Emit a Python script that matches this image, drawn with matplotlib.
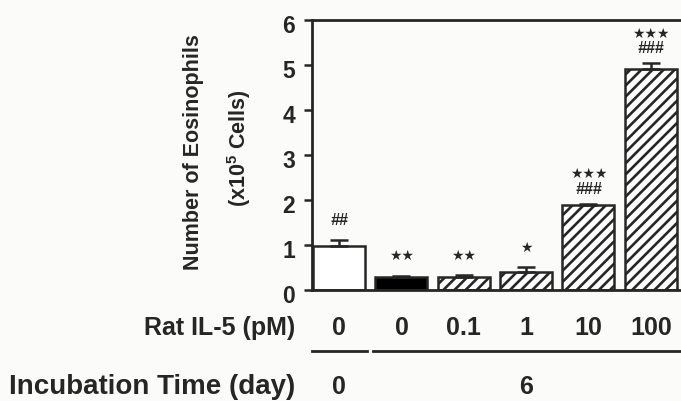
import matplotlib
matplotlib.use("Agg")
import matplotlib.pyplot as plt
import matplotlib.transforms as mtransforms
import numpy as np

# ---- data ----
il5_labels = ["0", "0", "0.1", "1", "10", "100"]
eosinophils = [0.98, 0.29, 0.30, 0.40, 1.88, 4.91]
sem = [0.13, 0.03, 0.03, 0.11, 0.04, 0.13]
sig_star = [0, 2, 2, 1, 3, 3]          # number of stars
sig_hash = [2, 0, 0, 0, 3, 3]          # number of hashes
bar_faces = ["white", "black", "white", "white", "white", "white"]
bar_hatches = [None, None, "///", "///", "///", "///"]
incubation_labels = ["0", "6"]
y_ticks = [0, 1, 2, 3, 4, 5, 6]

INK = "#262626"
plt.rcParams["font.family"] = ["Liberation Sans", "DejaVu Sans"]
plt.rcParams["font.weight"] = "bold"
plt.rcParams["mathtext.fontset"] = "custom"
plt.rcParams["mathtext.rm"] = "Liberation Sans:bold"
plt.rcParams["mathtext.it"] = "Liberation Sans:bold"
plt.rcParams["mathtext.bf"] = "Liberation Sans:bold"
plt.rcParams["hatch.linewidth"] = 1.9
plt.rcParams["hatch.color"] = INK

W, H = 681, 401
fig = plt.figure(figsize=(W / 100, H / 100), dpi=100)
fig.patch.set_facecolor("#fbfbf9")

ax_l, ax_r, ax_t, ax_b = 312, 700, 20, 290
ax = fig.add_axes([ax_l / W, 1 - ax_b / H, (ax_r - ax_l) / W, (ax_b - ax_t) / H])
ax.set_facecolor("none")

x = np.arange(len(eosinophils))
for i in range(len(x)):
    ax.bar(x[i], eosinophils[i], width=0.835, color=bar_faces[i], edgecolor=INK,
           linewidth=1.8, hatch=bar_hatches[i], zorder=2)
ax.errorbar(x, eosinophils, yerr=[np.zeros(len(x)), sem], fmt="none",
            ecolor=INK, elinewidth=1.8, capsize=6.5, capthick=1.8, zorder=3)

ax.set_xlim(-0.435, 5.79)
ax.set_ylim(0, 6)
ax.set_yticks(y_ticks)
ax.set_yticklabels([str(t) for t in y_ticks], fontsize=16.5, fontweight="bold", color=INK)
ax.tick_params(axis="y", direction="out", length=6, width=1.8, pad=6, colors=INK)
ax.set_xticks([])
for lbl in ax.get_yticklabels():
    lbl.set_transform(lbl.get_transform() +
                      mtransforms.ScaledTranslation(0, -4 / 100, fig.dpi_scale_trans))
for s in ["left", "bottom", "top", "right"]:
    ax.spines[s].set_linewidth(2.0)
    ax.spines[s].set_color(INK)

# significance marks
star_kw = dict(ha="center", va="center", fontsize=10, color=INK, family="DejaVu Sans",
               textcoords="offset points")
hash_kw = dict(ha="center", va="center", fontsize=11.5, fontweight="bold", style="italic",
               color=INK, textcoords="offset points")
for i in range(len(x)):
    top = eosinophils[i] + sem[i]
    stars = "\u2605" * sig_star[i]
    hashes = "#" * sig_hash[i]
    if hashes and stars:
        ax.annotate(hashes, (x[i], top), xytext=(0, 10.5), **hash_kw)
        ax.annotate(stars, (x[i], top), xytext=(0, 21), **star_kw)
    elif hashes:
        ax.annotate(hashes, (x[i], top), xytext=(0, 14), **hash_kw)
    elif stars:
        ax.annotate(stars, (x[i], top), xytext=(0, 14), **star_kw)

# bottom labels
blend = mtransforms.blended_transform_factory(ax.transData, ax.transAxes)
ax_h = ax_b - ax_t
def ay(py):
    return (ax_b - py) / ax_h

for i, lab in enumerate(il5_labels):
    ax.text(x[i], ay(328), lab, transform=blend, ha="center", va="center",
            fontsize=18, fontweight="bold", color=INK, clip_on=False)
ax.text(-0.71, ay(328), "Rat IL-5 (pM)", transform=blend, ha="right", va="center",
        fontsize=18, fontweight="bold", color=INK)
ax.text(-0.71, ay(387), "Incubation Time (day)", transform=blend, ha="right", va="center",
        fontsize=20, fontweight="bold", color=INK)
ax.text(x[0], ay(387), incubation_labels[0], transform=blend, ha="center", va="center",
        fontsize=18, fontweight="bold", color=INK)
ax.text(np.mean(x[1:]), ay(387), incubation_labels[1], transform=blend, ha="center",
        va="center", fontsize=18, fontweight="bold", color=INK)
ax.plot([-0.435, 0.45], [ay(351), ay(351)], transform=blend, color=INK, lw=2.0,
        clip_on=False)
ax.plot([0.55, 5.79], [ay(351), ay(351)], transform=blend, color=INK, lw=2.0,
        clip_on=False)

# y label (two lines)
fig.text(193 / W, 1 - 152 / H, "Number of Eosinophils", rotation=90, ha="center",
         va="center", fontsize=15.5, fontweight="bold", color=INK)
fig.text(239 / W, 1 - 148 / H, r"(x10$^{5}$ Cells)", rotation=90, ha="center",
         va="center", fontsize=15.5, fontweight="bold", color=INK)

fig.savefig("out.png", dpi=100, facecolor=fig.get_facecolor())
